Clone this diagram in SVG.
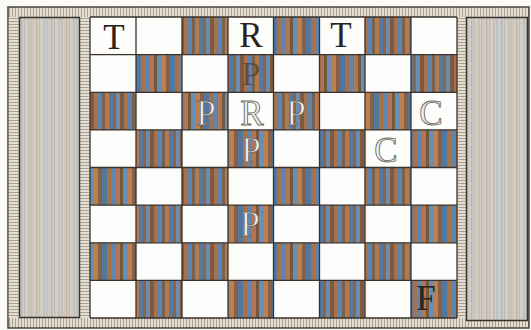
<svg xmlns="http://www.w3.org/2000/svg" width="531" height="330" viewBox="0 0 531 330">
<defs>
<pattern id="wood" patternUnits="userSpaceOnUse" width="30" height="12">
<rect x="0" y="0" width="30" height="12" fill="#8a6244"/>
<rect x="0" y="0" width="4" height="12" fill="#7e5a40"/>
<rect x="4" y="0" width="3" height="12" fill="#a8724c"/>
<rect x="7" y="0" width="5" height="12" fill="#5f84ad"/>
<rect x="12" y="0" width="3" height="12" fill="#76624f"/>
<rect x="15" y="0" width="4" height="12" fill="#b47a4e"/>
<rect x="19" y="0" width="4" height="12" fill="#5679a3"/>
<rect x="23" y="0" width="3" height="12" fill="#8e6446"/>
<rect x="26" y="0" width="4" height="12" fill="#6d8db0"/>
</pattern>
<pattern id="wood2" patternUnits="userSpaceOnUse" width="34" height="12" x="9">
<rect x="0" y="0" width="34" height="12" fill="#8a6648"/>
<rect x="0" y="0" width="5" height="12" fill="#5e86b2"/>
<rect x="5" y="0" width="4" height="12" fill="#b27650"/>
<rect x="9" y="0" width="3" height="12" fill="#74583f"/>
<rect x="12" y="0" width="5" height="12" fill="#6a8fb6"/>
<rect x="17" y="0" width="4" height="12" fill="#bd804f"/>
<rect x="21" y="0" width="4" height="12" fill="#876047"/>
<rect x="25" y="0" width="5" height="12" fill="#52779f"/>
<rect x="30" y="0" width="4" height="12" fill="#a7714a"/>
</pattern>
<pattern id="panel" patternUnits="userSpaceOnUse" width="15" height="10">
<rect x="0" y="0" width="15" height="10" fill="#d3cec5"/>
<rect x="1" y="0" width="1.5" height="10" fill="#b5bfc8"/>
<rect x="4" y="0" width="1" height="10" fill="#dbc3ac"/>
<rect x="6" y="0" width="1.5" height="10" fill="#bcb8b0"/>
<rect x="9" y="0" width="1" height="10" fill="#afbecd"/>
<rect x="11" y="0" width="1.5" height="10" fill="#dccdba"/>
<rect x="13.5" y="0" width="1" height="10" fill="#b6b2aa"/>
</pattern>
<pattern id="hatchV" patternUnits="userSpaceOnUse" width="3" height="10">
<rect x="0" y="0" width="3" height="10" fill="#e3ddd2"/>
<rect x="0" y="0" width="1" height="10" fill="#a8a194"/>
</pattern>
<pattern id="hatchH" patternUnits="userSpaceOnUse" width="10" height="3">
<rect x="0" y="0" width="10" height="3" fill="#e3ddd2"/>
<rect x="0" y="0" width="10" height="1" fill="#a8a194"/>
</pattern>
</defs>
<style>
.d{fill:url(#wood)}
.e{fill:url(#wood2)}
.ln{stroke:#3a322b;stroke-width:1.3;fill:none}
.blk{font-family:"Liberation Serif","Times New Roman",serif;font-size:35px;fill:#2a2420;text-anchor:middle}
.wht{font-family:"Liberation Serif","Times New Roman",serif;font-size:35px;fill:#f3f1ec;stroke:#6e6a64;stroke-width:0.9;text-anchor:middle}
.dim{font-family:"Liberation Serif","Times New Roman",serif;font-size:33px;fill:#4e3b2c;opacity:0.7;text-anchor:middle}
</style>
<rect x="0" y="0" width="531" height="330" fill="#fbfaf6"/>
<g id="frame">
<rect x="8" y="7" width="521" height="321" fill="url(#hatchV)" stroke="#4a443c" stroke-width="1.5"/>
<rect x="8.8" y="17" width="10.5" height="301" fill="url(#hatchH)"/>
<rect x="80" y="17" width="10" height="301" fill="url(#hatchH)"/>
<rect x="457" y="17" width="9" height="301" fill="url(#hatchH)"/>
<rect x="19.5" y="17.5" width="60" height="300" fill="url(#panel)" stroke="#3a332c" stroke-width="1.5"/>
<rect x="466.5" y="17.5" width="61" height="303" fill="url(#panel)" stroke="#3a332c" stroke-width="1.5"/>
</g>
<g id="board">
<rect x="90" y="17" width="367" height="301" fill="#fdfdfb"/>
<g id="dark-squares">
<rect class="d" x="182" y="17" width="46" height="37.6"/>
<rect class="e" x="273.5" y="17" width="46" height="37.6"/>
<rect class="d" x="365" y="17" width="46" height="37.6"/>
<rect class="e" x="136" y="54.6" width="46" height="37.7"/>
<rect class="d" x="228" y="54.6" width="45.5" height="37.7"/>
<rect class="e" x="319.5" y="54.6" width="45.5" height="37.7"/>
<rect class="d" x="411" y="54.6" width="46" height="37.7"/>
<rect class="d" x="90" y="92.3" width="46" height="37.6"/>
<rect class="e" x="182" y="92.3" width="46" height="37.6"/>
<rect class="d" x="273.5" y="92.3" width="46" height="37.6"/>
<rect class="e" x="365" y="92.3" width="46" height="37.6"/>
<rect class="d" x="136" y="129.9" width="46" height="37.6"/>
<rect class="e" x="228" y="129.9" width="45.5" height="37.6"/>
<rect class="d" x="319.5" y="129.9" width="45.5" height="37.6"/>
<rect class="e" x="411" y="129.9" width="46" height="37.6"/>
<rect class="e" x="90" y="167.5" width="46" height="37.6"/>
<rect class="d" x="182" y="167.5" width="46" height="37.6"/>
<rect class="e" x="273.5" y="167.5" width="46" height="37.6"/>
<rect class="d" x="365" y="167.5" width="46" height="37.6"/>
<rect class="d" x="136" y="205.1" width="46" height="37.7"/>
<rect class="e" x="228" y="205.1" width="45.5" height="37.7"/>
<rect class="d" x="319.5" y="205.1" width="45.5" height="37.7"/>
<rect class="e" x="411" y="205.1" width="46" height="37.7"/>
<rect class="e" x="90" y="242.8" width="46" height="37.6"/>
<rect class="d" x="182" y="242.8" width="46" height="37.6"/>
<rect class="e" x="273.5" y="242.8" width="46" height="37.6"/>
<rect class="d" x="365" y="242.8" width="46" height="37.6"/>
<rect class="d" x="136" y="280.4" width="46" height="37.6"/>
<rect class="e" x="228" y="280.4" width="45.5" height="37.6"/>
<rect class="d" x="319.5" y="280.4" width="45.5" height="37.6"/>
<rect class="e" x="411" y="280.4" width="46" height="37.6"/>
</g>
<path class="ln" d="M90 17V318M136 17V318M182 17V318M228 17V318M273.5 17V318M319.5 17V318M365 17V318M411 17V318M457 17V318M90 17H457M90 54.6H457M90 92.3H457M90 129.9H457M90 167.5H457M90 205.1H457M90 242.8H457M90 280.4H457M90 318H457"/>
</g>
<g id="pieces">
<text class="blk" x="114" y="49">T</text>
<text class="blk" x="251" y="47">R</text>
<text class="blk" x="341" y="47">T</text>
<text class="dim" x="251" y="85">P</text>
<text class="wht" x="206" y="125">P</text>
<text class="wht" x="252" y="125">R</text>
<text class="wht" x="296" y="125">P</text>
<text class="wht" x="431" y="125">C</text>
<text class="wht" x="251" y="162">P</text>
<text class="wht" x="386" y="162">C</text>
<text class="wht" x="250" y="236">P</text>
<text class="blk" x="426" y="310">F</text>
</g>
</svg>
